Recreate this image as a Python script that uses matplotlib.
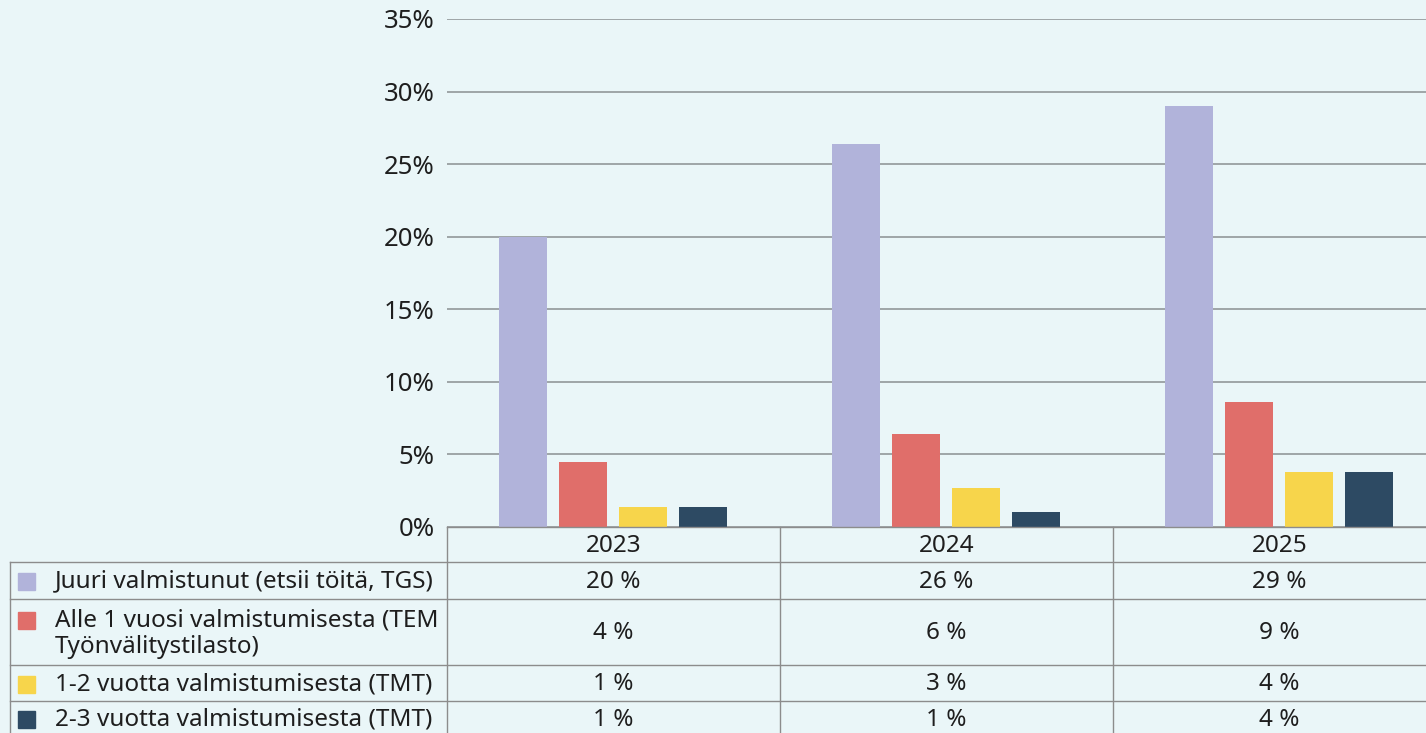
import matplotlib
matplotlib.use("Agg")
import matplotlib.pyplot as plt
import numpy as np

years = ["2023", "2024", "2025"]
series_names = [
    "Juuri valmistunut (etsii töitä, TGS)",
    "Alle 1 vuosi valmistumisesta (TEM\nTyönvälitystilasto)",
    "1-2 vuotta valmistumisesta (TMT)",
    "2-3 vuotta valmistumisesta (TMT)",
]
juuri = [20.0, 26.4, 29.0]
alle1 = [4.5, 6.4, 8.6]
v1_2 = [1.4, 2.7, 3.8]
v2_3 = [1.4, 1.0, 3.8]
table_labels = [
    ["20 %", "26 %", "29 %"],
    ["4 %", "6 %", "9 %"],
    ["1 %", "3 %", "4 %"],
    ["1 %", "1 %", "4 %"],
]
colors = ["#B1B3DA", "#E06E6A", "#F7D54B", "#2D4A63"]
yticks = [0, 5, 10, 15, 20, 25, 30, 35]

BG = "#EAF6F8"
GRID = "#8A8F92"
TXT = "#1E1E1E"
FS = 17.5
plt.rcParams["font.family"] = ["Noto Sans", "DejaVu Sans"]

W, H = 1426, 733
fig = plt.figure(figsize=(W / 100, H / 100), dpi=100, facecolor=BG)

# plot area in pixels (the right edge runs past the image, like the source)
x0, x1 = 447, 1446
y_top, y_zero = 19, 527
ax = fig.add_axes([x0 / W, 1 - y_zero / H, (x1 - x0) / W, (y_zero - y_top) / H])
ax.set_facecolor(BG)
ax.set_xlim(0, 3)
ax.set_ylim(0, 35)
ax.set_yticks(yticks)
ax.set_yticklabels([f"{t}%" for t in yticks], fontsize=18.5, color=TXT)
ax.tick_params(axis="y", length=0, pad=9)
ax.set_xticks([])
ax.grid(axis="y", color=GRID, linewidth=1.1)
ax.set_axisbelow(True)
for s in ax.spines.values():
    s.set_visible(False)

cat = np.arange(3) + 0.5
bw = 48 / 333
step = 60 / 333
for i, vals in enumerate([juuri, alle1, v1_2, v2_3]):
    ax.bar(cat + (i - 1.5) * step, vals, width=bw, color=colors[i], zorder=3)

# data table drawn on an overlay in pixel coordinates
tab = fig.add_axes([0, 0, 1, 1], facecolor="none")
tab.set_xlim(0, W)
tab.set_ylim(H, 0)
tab.axis("off")

rows = [527, 562, 599, 665, 701, 740]
cols = [x0 + i * 333 for i in range(4)]
lc = "#8C8C8C"
lw = 1.0
tab.plot([x0, W], [rows[0]] * 2, color=lc, lw=lw)
for r in rows[1:-1]:
    tab.plot([10, W], [r, r], color=lc, lw=lw)
tab.plot([10, 10], [rows[1], H], color=lc, lw=lw)
for c in cols[:3]:
    tab.plot([c, c], [rows[0], H], color=lc, lw=lw)

for j, y in enumerate(years):
    tab.text(cols[j] + 166.5, (rows[0] + rows[1]) / 2 + 1, y, ha="center",
             va="center", fontsize=FS, color=TXT)

for i, name in enumerate(series_names):
    top, bot = rows[i + 1], rows[i + 2]
    if i == 3:
        bot = 736
    mid = (top + bot) / 2 + 1
    if "\n" in name:
        tab.text(55, top + 9, name, ha="left", va="top", fontsize=FS, color=TXT,
                 linespacing=1.18)
        ky = top + 21
    else:
        tab.text(55, mid, name, ha="left", va="center", fontsize=FS, color=TXT)
        ky = mid
    tab.add_patch(plt.Rectangle((18, ky - 8.5), 17, 17, color=colors[i]))
    for j in range(3):
        tab.text(cols[j] + 166.5, mid, table_labels[i][j], ha="center",
                 va="center", fontsize=FS, color=TXT)

fig.savefig("out.png", dpi=100, facecolor=BG)
